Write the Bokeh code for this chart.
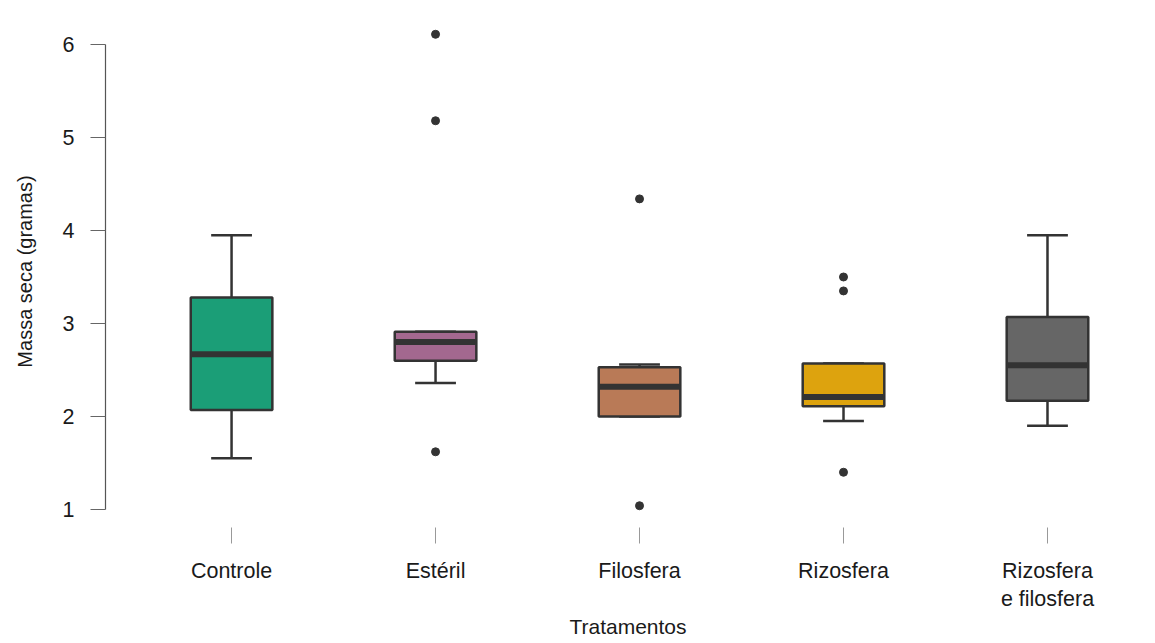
from bokeh.plotting import figure
from bokeh.models import Range1d, FixedTicker
from bokeh.embed import file_html
from bokeh.resources import INLINE

# ---- data ----
categories = ["Controle", "Estéril", "Filosfera", "Rizosfera", "Rizosfera\ne filosfera"]
lower_whisker = [1.55, 2.36, 2.00, 1.95, 1.90]
q1 = [2.07, 2.60, 2.00, 2.11, 2.17]
median = [2.67, 2.80, 2.32, 2.21, 2.55]
q3 = [3.28, 2.91, 2.53, 2.57, 3.07]
upper_whisker = [3.95, 2.91, 2.56, 2.57, 3.95]
outlier_group = ["Estéril", "Estéril", "Estéril", "Filosfera", "Filosfera",
                 "Rizosfera", "Rizosfera", "Rizosfera"]
outlier_values = [6.11, 5.18, 1.62, 4.34, 1.04, 3.50, 3.35, 1.40]
y_ticks = [1, 2, 3, 4, 5, 6]

colors = ["#1B9E77", "#A3688F", "#B97A57", "#DDA30E", "#666666"]

# ---- layout/style ----
FONT = "Liberation Sans"
INK = "#333333"
box_half = 0.2
cap_half = 0.1

x_pos = [i + 1 for i in range(len(categories))]
pos_of = {c: x for c, x in zip(categories, x_pos)}
out_x = [pos_of[g] for g in outlier_group]

p = figure(width=1155, height=643, output_backend="svg", toolbar_location=None,
           x_range=Range1d(0.382, 5.505), y_range=Range1d(0.806, 6.312),
           min_border_left=105, min_border_right=5, min_border_top=15,
           min_border_bottom=116)
p.outline_line_color = None
p.xgrid.grid_line_color = None
p.ygrid.grid_line_color = None
p.background_fill_color = "white"
p.border_fill_color = "white"

# whiskers
p.segment(x0=x_pos, x1=x_pos, y0=q3, y1=upper_whisker, line_color=INK, line_width=2.5)
p.segment(x0=x_pos, x1=x_pos, y0=q1, y1=lower_whisker, line_color=INK, line_width=2.5)
p.segment(x0=[x - cap_half for x in x_pos], x1=[x + cap_half for x in x_pos],
          y0=upper_whisker, y1=upper_whisker, line_color=INK, line_width=2.5)
p.segment(x0=[x - cap_half for x in x_pos], x1=[x + cap_half for x in x_pos],
          y0=lower_whisker, y1=lower_whisker, line_color=INK, line_width=2.5)

# boxes
p.quad(left=[x - box_half for x in x_pos], right=[x + box_half for x in x_pos],
       bottom=q1, top=q3, fill_color=colors, line_color=INK, line_width=2.5)

# medians
p.segment(x0=[x - box_half for x in x_pos], x1=[x + box_half for x in x_pos],
          y0=median, y1=median, line_color=INK, line_width=6)

# outliers
p.scatter(x=out_x, y=outlier_values, size=8, fill_color=INK, line_color=INK)

# x axis
xa = p.xaxis[0]
xa.ticker = FixedTicker(ticks=x_pos)
xa.major_label_overrides = {x: c for x, c in zip(x_pos, categories)}
xa.axis_line_color = None
xa.major_tick_in = 0
xa.major_tick_out = 16
xa.major_tick_line_color = "#999999"
xa.minor_tick_line_color = None
xa.major_label_standoff = 15
xa.major_label_text_font = FONT
xa.major_label_text_font_size = "21.5px"
xa.major_label_text_color = "#1a1a1a"
xa.axis_label = "Tratamentos"
xa.axis_label_text_font = FONT
xa.axis_label_text_font_size = "21px"
xa.axis_label_text_font_style = "normal"
xa.axis_label_text_color = "#1a1a1a"
xa.axis_label_standoff = 1

# y axis
ya = p.yaxis[0]
ya.ticker = FixedTicker(ticks=y_ticks)
ya.bounds = (1, 6)
ya.axis_line_color = "#555555"
ya.axis_line_width = 1.2
ya.major_tick_in = 0
ya.major_tick_out = 15
ya.major_tick_line_color = "#666666"
ya.minor_tick_line_color = None
ya.major_label_standoff = 16
ya.major_label_text_font = FONT
ya.major_label_text_font_size = "21.5px"
ya.major_label_text_color = "#1a1a1a"
ya.axis_label = "Massa seca (gramas)"
ya.axis_label_text_font = FONT
ya.axis_label_text_font_size = "20px"
ya.axis_label_text_font_style = "normal"
ya.axis_label_text_color = "#1a1a1a"
ya.axis_label_standoff = 24

open("out.html", "w").write(file_html(p, INLINE))
